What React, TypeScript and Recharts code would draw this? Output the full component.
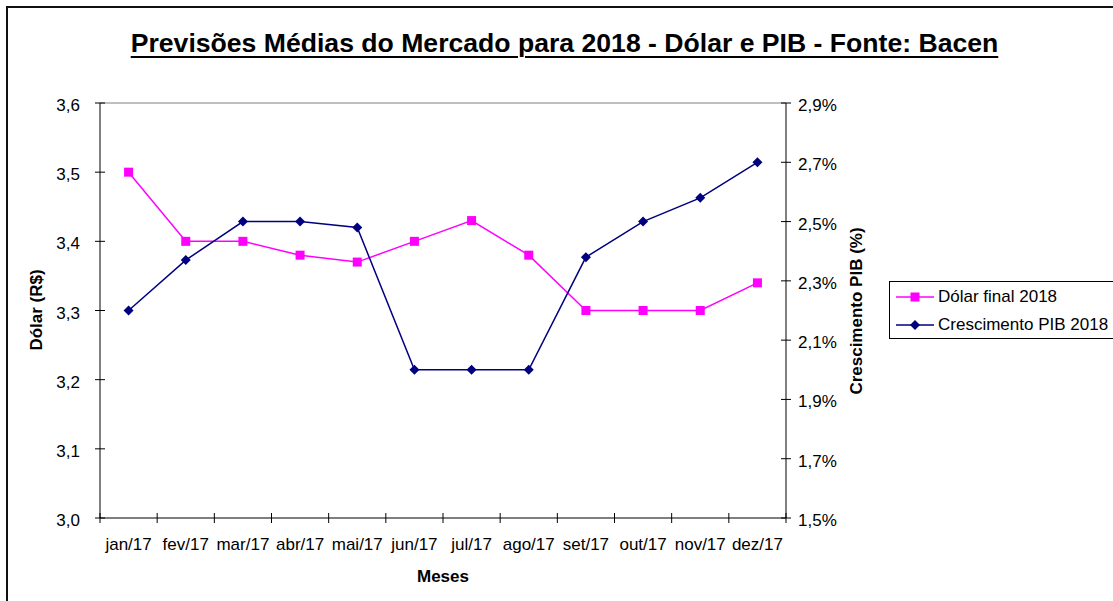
import React from 'react';
import { LineChart, Line, XAxis, YAxis, Legend, ReferenceLine, Label } from 'recharts';

const months = ['jan/17', 'fev/17', 'mar/17', 'abr/17', 'mai/17', 'jun/17', 'jul/17', 'ago/17', 'set/17', 'out/17', 'nov/17', 'dez/17'];
const dolar = [3.5, 3.4, 3.4, 3.38, 3.37, 3.4, 3.43, 3.38, 3.3, 3.3, 3.3, 3.34];
const pib = [2.2, 2.37, 2.5, 2.5, 2.48, 2.0, 2.0, 2.0, 2.38, 2.5, 2.58, 2.7];
const dolarTicks = [3.0, 3.1, 3.2, 3.3, 3.4, 3.5, 3.6];
const pibTicks = [1.5, 1.7, 1.9, 2.1, 2.3, 2.5, 2.7, 2.9];

const data = months.map((m, i) => ({ month: m, dolar: dolar[i], pib: pib[i] }));

const FONT = '"Liberation Sans", Arial, sans-serif';
const PINK = '#FF00FF';
const NAVY = '#000080';
const PLOT_W = 686;
const BAND = PLOT_W / months.length;

const comma = (v: number) => v.toFixed(1).replace('.', ',');

const XTick = (props: any) => {
  const { x, y, payload, index } = props;
  const half = BAND / 2;
  return (
    <g>
      <line x1={x - half} x2={x - half} y1={y - 5} y2={y + 5} stroke="#000" />
      {index === months.length - 1 && <line x1={x + half} x2={x + half} y1={y - 5} y2={y + 5} stroke="#000" />}
      <text x={x} y={y + 32} textAnchor="middle" fontSize={17} fontFamily={FONT} fill="#000">
        {payload.value}
      </text>
    </g>
  );
};

const LeftTick = (props: any) => {
  const { x, y, payload } = props;
  return (
    <g>
      <line x1={x - 5} x2={x + 5} y1={y} y2={y} stroke="#000" />
      <text x={x - 20} y={y + 8} textAnchor="end" fontSize={17} fontFamily={FONT} fill="#000">
        {comma(payload.value)}
      </text>
    </g>
  );
};

const RightTick = (props: any) => {
  const { x, y, payload } = props;
  return (
    <g>
      <line x1={x - 5} x2={x + 5} y1={y} y2={y} stroke="#000" />
      <text x={x + 12} y={y + 8} textAnchor="start" fontSize={17} fontFamily={FONT} fill="#000">
        {comma(payload.value) + '%'}
      </text>
    </g>
  );
};

const SquareDot = (props: any) => {
  const { cx, cy, index } = props;
  return <rect key={'sq' + index} x={cx - 4.5} y={cy - 4.5} width={9} height={9} fill={PINK} />;
};

const DiamondDot = (props: any) => {
  const { cx, cy, index } = props;
  return (
    <polygon
      key={'dm' + index}
      points={`${cx},${cy - 5} ${cx + 5},${cy} ${cx},${cy + 5} ${cx - 5},${cy}`}
      fill={NAVY}
    />
  );
};

const LegendBox = () => (
  <div
    style={{
      border: '1px solid #000',
      width: 240,
      height: 58,
      boxSizing: 'border-box',
      background: '#fff',
      fontFamily: FONT,
      fontSize: 17,
      color: '#000',
      position: 'relative',
    }}
  >
    {[
      { name: 'Dólar final 2018', color: PINK, shape: 'square', top: 5 },
      { name: 'Crescimento PIB 2018', color: NAVY, shape: 'diamond', top: 33 },
    ].map((e) => (
      <div key={e.name} style={{ position: 'absolute', left: 6, top: e.top, height: 20, display: 'flex', alignItems: 'center', whiteSpace: 'nowrap' }}>
        <svg width={38} height={12} style={{ marginRight: 4 }}>
          <line x1={0} x2={38} y1={6} y2={6} stroke={e.color} strokeWidth={1.5} />
          {e.shape === 'square' ? (
            <rect x={14.5} y={1.5} width={9} height={9} fill={e.color} />
          ) : (
            <polygon points="19,1 24,6 19,11 14,6" fill={e.color} />
          )}
        </svg>
        <span>{e.name}</span>
      </div>
    ))}
  </div>
);

export default function App() {
  return (
    <div style={{ position: 'absolute', left: 0, top: 0, width: 1113, height: 601, overflow: 'hidden', background: '#fff' }}>
      <div style={{ position: 'absolute', left: 6, top: 6, width: 1200, height: 700, border: '2px solid #111' }} />
      <div
        style={{
          position: 'absolute',
          left: 0,
          top: 28,
          width: 1129,
          textAlign: 'center',
          fontFamily: FONT,
          fontWeight: 'bold',
          fontSize: 26.6,
          lineHeight: '30px',
          textDecoration: 'underline',
          textDecorationThickness: 2,
          textUnderlineOffset: 4,
          color: '#000',
        }}
      >
        Previsões Médias do Mercado para 2018 - Dólar e PIB - Fonte: Bacen
      </div>
      <div style={{ position: 'absolute', left: 0, top: 0 }}>
        <LineChart width={1113} height={601} data={data} margin={{ top: 103, right: 0, bottom: 0, left: 0 }}>
          <XAxis
            dataKey="month"
            height={83}
            interval={0}
            padding={{ left: BAND / 2, right: BAND / 2 }}
            tickSize={0}
            tickMargin={0}
            tickLine={false}
            axisLine={{ stroke: '#000' }}
            tick={<XTick />}
          >
            <Label
              content={() => (
                <text x={443} y={582} textAnchor="middle" fontSize={17} fontWeight="bold" fontFamily={FONT} fill="#000">
                  Meses
                </text>
              )}
            />
          </XAxis>
          <YAxis
            yAxisId="left"
            width={100}
            domain={[3.0, 3.6]}
            ticks={dolarTicks}
            tickSize={0}
            tickMargin={0}
            tickLine={false}
            axisLine={{ stroke: '#000' }}
            tick={<LeftTick />}
          >
            <Label
              content={() => (
                <text
                  x={36}
                  y={310}
                  transform="rotate(-90 36 310)"
                  textAnchor="middle"
                  dominantBaseline="central"
                  fontSize={17}
                  fontWeight="bold"
                  fontFamily={FONT}
                  fill="#000"
                >
                  Dólar (R$)
                </text>
              )}
            />
          </YAxis>
          <YAxis
            yAxisId="right"
            orientation="right"
            width={327}
            domain={[1.5, 2.9]}
            ticks={pibTicks}
            tickSize={0}
            tickMargin={0}
            tickLine={false}
            axisLine={{ stroke: '#000' }}
            tick={<RightTick />}
          >
            <Label
              content={() => (
                <text
                  x={856}
                  y={311}
                  transform="rotate(-90 856 311)"
                  textAnchor="middle"
                  dominantBaseline="central"
                  fontSize={17}
                  fontWeight="bold"
                  fontFamily={FONT}
                  fill="#000"
                >
                  Crescimento PIB (%)
                </text>
              )}
            />
          </YAxis>
          <ReferenceLine yAxisId="left" y={3.6} stroke="#808080" />
          <Legend
            layout="vertical"
            align="center"
            verticalAlign="middle"
            content={<LegendBox />}
            wrapperStyle={{ left: 889, top: 281, width: 240, height: 58 }}
          />
          <Line
            yAxisId="left"
            dataKey="dolar"
            name="Dólar final 2018"
            stroke={PINK}
            strokeWidth={1.5}
            dot={<SquareDot />}
            activeDot={false}
            isAnimationActive={false}
          />
          <Line
            yAxisId="right"
            dataKey="pib"
            name="Crescimento PIB 2018"
            stroke={NAVY}
            strokeWidth={1.5}
            dot={<DiamondDot />}
            activeDot={false}
            isAnimationActive={false}
          />
        </LineChart>
      </div>
    </div>
  );
}
